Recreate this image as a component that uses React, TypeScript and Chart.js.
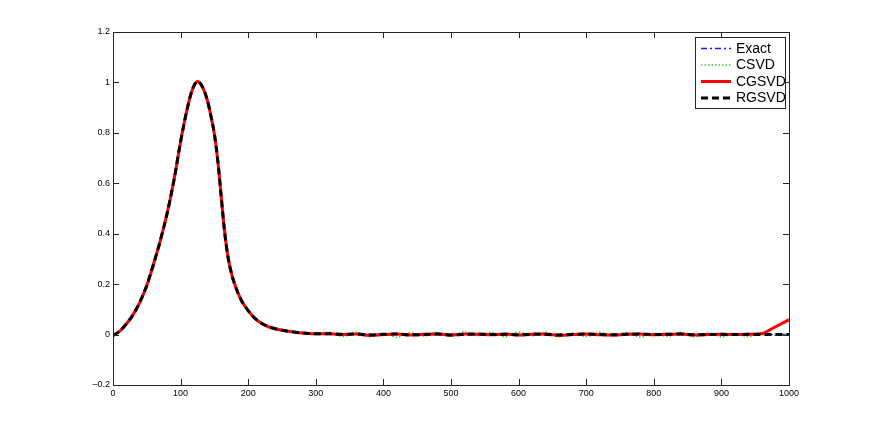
import React, { useEffect, useRef } from 'react';
import { Chart, registerables } from 'chart.js';

Chart.register(...registerables);

// x positions of the samples
const xValues = [
  0, 10, 20, 30, 40, 50, 60, 70, 80, 90, 100, 105, 110, 115, 120, 125, 130, 135, 140, 145, 150, 155,
  160, 165, 170, 175, 180, 190, 200, 210, 220, 230, 240, 250, 260, 270, 280, 290, 300,
  320, 340, 360, 380, 400, 420, 440, 460, 480, 500, 520, 540, 560, 580, 600, 620, 640, 660, 680, 700,
  720, 740, 760, 780, 800, 820, 840, 860, 880, 900, 920, 940, 960, 980, 1000,
];

// common peak part (x = 0 .. 300)
const peakValues = [
  -0.004, 0.014, 0.043, 0.08, 0.13, 0.195, 0.28, 0.373, 0.48, 0.61, 0.765, 0.835, 0.898, 0.952, 0.988,
  1.004, 0.993, 0.966, 0.925, 0.865, 0.795, 0.69, 0.55, 0.41, 0.31, 0.245, 0.2, 0.135, 0.095, 0.064,
  0.044, 0.031, 0.023, 0.017, 0.013, 0.009, 0.006, 0.004, 0.003,
];

// tails (x = 320 .. 1000)
const exactTail = [
  0.002, 0.002, 0.001, 0.001, 0.001, 0.001, 0.0, 0.0, 0.0, 0.0, 0.0, 0.0, 0.0, 0.0, 0.0, 0.0, 0.0, 0.0,
  0.0, 0.0, 0.0, 0.0, 0.0, 0.0, 0.0, 0.0, 0.0, 0.0, 0.0, 0.0, 0.0, 0.0, 0.0, 0.0, 0.0,
];
const csvdTail = [
  0.009, -0.008, 0.01, -0.009, 0.004, -0.011, 0.008, -0.006, 0.009, -0.008, 0.011, -0.004, 0.008,
  -0.009, 0.01, -0.005, 0.009, -0.009, 0.006, -0.008, 0.009, -0.006, 0.008, -0.01, 0.005, -0.007,
  0.009, -0.008, 0.006, -0.009, 0.005, -0.008, 0.006, -0.003, 0.002,
];
const cgsvdTail = [
  0.003, 0.0, 0.002, -0.003, 0.0, 0.002, -0.002, 0.001, 0.002, -0.002, 0.002, 0.001, -0.001, 0.002,
  -0.002, 0.001, 0.002, -0.003, 0.0, 0.002, -0.001, -0.002, 0.001, 0.002, -0.001, 0.001, 0.002,
  -0.002, 0.0, 0.001, 0.0, 0.001, 0.004, 0.031, 0.059,
];
const rgsvdTail = [
  0.003, 0.001, 0.002, -0.002, 0.001, 0.002, -0.001, 0.0, 0.002, -0.002, 0.001, 0.002, 0.0, 0.001,
  -0.001, 0.002, 0.001, -0.002, 0.001, 0.002, 0.0, -0.001, 0.001, 0.002, 0.0, 0.001, 0.002, -0.001,
  0.0, 0.001, 0.0, 0.001, 0.0, 0.0, 0.0,
];

const seriesNames = ['Exact', 'CSVD', 'CGSVD', 'RGSVD'];
const seriesColors = ['#1a1aff', '#33cc33', '#ff0000', '#000000'];
const seriesWidths = [1.5, 1.5, 3, 3];
const seriesDashes: number[][] = [[6, 3, 2, 3], [1.5, 2], [], [7, 4]];

const xTicks = [0, 100, 200, 300, 400, 500, 600, 700, 800, 900, 1000];
const yTicks = [-0.2, 0, 0.2, 0.4, 0.6, 0.8, 1, 1.2];

const FONT = '"Liberation Sans", Arial, Helvetica, sans-serif';

function toPoints(ys: number[]) {
  return xValues.map((x, i) => ({ x, y: ys[i] }));
}

const axesBoxPlugin = {
  id: 'axesBox',
  afterDatasetsDraw(chart: any) {
    const { ctx, chartArea } = chart;
    const { left, right, top, bottom } = chartArea;
    const xs = chart.scales.x;
    const ys = chart.scales.y;
    ctx.save();
    ctx.strokeStyle = '#262626';
    ctx.lineWidth = 1;
    ctx.setLineDash([]);
    ctx.strokeRect(Math.round(left) + 0.5, Math.round(top) + 0.5, Math.round(right - left), Math.round(bottom - top));
    const tl = 6;
    ctx.beginPath();
    xTicks.forEach((v) => {
      const px = Math.round(xs.getPixelForValue(v)) + 0.5;
      ctx.moveTo(px, bottom);
      ctx.lineTo(px, bottom - tl);
      ctx.moveTo(px, top);
      ctx.lineTo(px, top + tl);
    });
    yTicks.forEach((v) => {
      const py = Math.round(ys.getPixelForValue(v)) + 0.5;
      ctx.moveTo(left, py);
      ctx.lineTo(left + tl, py);
      ctx.moveTo(right, py);
      ctx.lineTo(right - tl, py);
    });
    ctx.stroke();
    ctx.restore();
  },
};

const legendPlugin = {
  id: 'matlabLegend',
  afterDraw(chart: any) {
    const { ctx } = chart;
    const bx = 695.5;
    const by = 37.5;
    const bw = 90;
    const bh = 71;
    ctx.save();
    ctx.fillStyle = '#ffffff';
    ctx.fillRect(bx, by, bw, bh);
    ctx.strokeStyle = '#262626';
    ctx.lineWidth = 1;
    ctx.setLineDash([]);
    ctx.strokeRect(bx, by, bw, bh);
    const rowY = [48.5, 65, 81.5, 98];
    seriesNames.forEach((name, i) => {
      const y = rowY[i];
      ctx.beginPath();
      ctx.strokeStyle = seriesColors[i];
      ctx.lineWidth = seriesWidths[i];
      ctx.setLineDash(seriesDashes[i]);
      ctx.moveTo(701, y);
      ctx.lineTo(731, y);
      ctx.stroke();
      ctx.setLineDash([]);
      ctx.fillStyle = '#000000';
      ctx.font = `14px ${FONT}`;
      ctx.textAlign = 'left';
      ctx.textBaseline = 'middle';
      ctx.fillText(name, 736, y + 0.5);
    });
    ctx.restore();
  },
};

export default function App() {
  const canvasRef = useRef<HTMLCanvasElement | null>(null);

  useEffect(() => {
    const canvas = canvasRef.current;
    if (!canvas) return;
    const seriesData = [
      [...peakValues, ...exactTail],
      [...peakValues, ...csvdTail],
      [...peakValues, ...cgsvdTail],
      [...peakValues, ...rgsvdTail],
    ];
    const chart = new Chart(canvas, {
      type: 'line',
      data: {
        datasets: seriesNames.map((name, i) => ({
          label: name,
          data: toPoints(seriesData[i]),
          borderColor: seriesColors[i],
          backgroundColor: seriesColors[i],
          borderWidth: seriesWidths[i],
          borderDash: seriesDashes[i],
          pointRadius: 0,
          pointHoverRadius: 0,
          fill: false,
          cubicInterpolationMode: 'monotone' as const,
          order: 3 - i,
        })),
      },
      options: {
        responsive: false,
        animation: false,
        events: [],
        layout: { padding: { left: 0, right: 83, top: 32, bottom: 28 } },
        plugins: {
          legend: { display: false },
          tooltip: { enabled: false },
          title: { display: false },
        },
        scales: {
          x: {
            type: 'linear',
            min: 0,
            max: 1000,
            afterBuildTicks: (scale: any) => {
              scale.ticks = xTicks.map((v) => ({ value: v }));
            },
            ticks: {
              autoSkip: false,
              maxRotation: 0,
              padding: 3,
              color: '#000',
              font: { family: FONT, size: 9 },
              callback: (v: any) => String(v),
            },
            grid: { display: false, drawTicks: false },
            border: { display: false },
            afterFit: (scale: any) => {
              scale.height = 20;
            },
          },
          y: {
            type: 'linear',
            min: -0.2,
            max: 1.2,
            afterBuildTicks: (scale: any) => {
              scale.ticks = yTicks.map((v) => ({ value: v }));
            },
            ticks: {
              autoSkip: false,
              padding: 3,
              color: '#000',
              font: { family: FONT, size: 9 },
              callback: (v: any) => {
                const n = Math.round(Number(v) * 10) / 10;
                if (n === 0) return '0';
                return n < 0 ? '\u2013' + String(Math.abs(n)) : String(n);
              },
            },
            grid: { display: false, drawTicks: false },
            border: { display: false },
            afterFit: (scale: any) => {
              scale.width = 113;
            },
          },
        },
      },
      plugins: [axesBoxPlugin, legendPlugin],
    });
    return () => chart.destroy();
  }, []);

  return (
    <div style={{ position: 'absolute', left: 0, top: 0, width: 872, height: 433, background: '#fff' }}>
      <canvas ref={canvasRef} width={872} height={433} style={{ display: 'block' }} />
    </div>
  );
}
